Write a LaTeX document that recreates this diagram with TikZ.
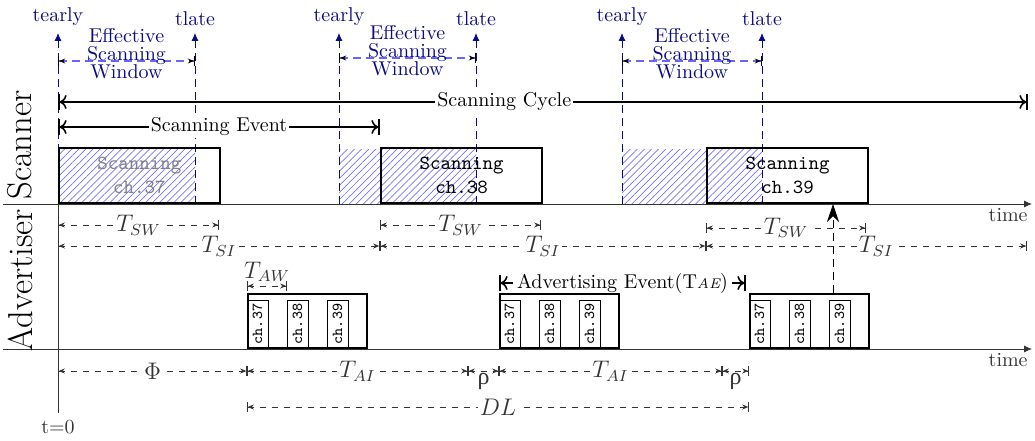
\documentclass[tikz,border=0pt]{standalone}
\usepackage{fontspec}
\newfontfamily\greekfont{Liberation Serif}
\usetikzlibrary{arrows.meta,patterns.meta}
\definecolor{darkblue}{RGB}{10,10,130}
\begin{document}
\begin{tikzpicture}[x=5pt,y=5pt,
	taxis/.style={black!80,-{Latex[length=4pt,width=3.5pt]}},
	evt/.style={thick,{Bar[width=8pt]To[length=3.5pt,width=7pt]}-{To[length=3.5pt,width=7pt]Bar[width=8pt]}},
	dim/.style={dashed,black!80,{Bar[width=5pt]Stealth[length=3pt,width=2.5pt]}-{Stealth[length=3pt,width=2.5pt]Bar[width=5pt]}},
	tline/.style={darkblue,dash pattern=on 4pt off 2.5pt,-{Latex[length=4pt,width=3.5pt]}},
	win/.style={blue!60,semithick,dash pattern=on 4pt off 2.5pt,{Bar[width=5pt,color=black]Stealth[length=3pt,width=2.5pt,color=black]}-{Stealth[length=3pt,width=2.5pt,color=black]Bar[width=5pt,color=black]}},
	lbl/.style={midway,fill=white,inner sep=1pt,font=\large},
	sbox/.style={draw,line width=1pt,minimum width=80.5pt,minimum height=27.5pt,anchor=south west,align=center,font=\ttfamily},
	abox/.style={draw,line width=1pt,minimum width=59.5pt,minimum height=27pt,anchor=south west},
	chbox/.style={draw,thin,rotate=90,minimum width=24pt,minimum height=10.5pt,inner sep=0pt,font=\ttfamily\fontsize{7.6}{9}\selectfont}]
	\useasboundingbox (-5.8,-9.1) rectangle (97.7,34.9);
	% effective scanning windows
	\foreach \e/\l/\h [count=\i] in {0/13.7/28.8,28.1/41.8/29.1,56.4/70.4/28.8}{
		\coordinate (e\i) at (\e,14.5);
		\coordinate (l\i) at (\l,14.5);
		\coordinate (we\i) at (\e,\h);
		\coordinate (wl\i) at (\l,\h);
		\fill[pattern={Lines[angle=45,distance=2.5pt,line width=0.35pt]},pattern color=blue!55] (e\i) rectangle (\l,20);
		\draw[tline] (e\i) -- ++(0,17.1) node[above] (te\i) {tearly};
		\draw[tline] (l\i) -- ++(0,17.1) node[above] (tl\i) {tlate};
		\draw[win] (we\i) -- (wl\i);
		\node[darkblue,align=center] (w\i) at ({(\e+\l)/2},\h+0.75) {Effective\\[-3pt]Scanning\\[-3pt]Window};
	}
	% scanner
	\node[sbox,text=gray] (scan1) at (0,14.5) {Scanning\\ch.37};
	\node[sbox] (scan2) at (32.2,14.5) {Scanning\\ch.38};
	\node[sbox] (scan3) at (64.8,14.5) {Scanning\\ch.39};
	\draw[evt] (0,24.7) -- (97,24.7) node[lbl,pos=0.46,font=\normalsize] (cyc) {Scanning Cycle};
	\draw[evt] (0,22.2) -- (32.2,22.2) node[lbl,font=\normalsize] (sev) {Scanning Event};
	% axes
	\draw[taxis] (-5.5,14.5) -- (97.4,14.5) node[below left,inner sep=2pt] (ts) {time};
	\draw[taxis] (-5.5,0) -- (97.4,0) node[below left,inner sep=2pt] (ta) {time};
	\draw[black!80] (0,14.5) -- (0,-6.4) node[below] (t0) {t=0};
	\node[rotate=90,font=\LARGE] (scl) at (-3.8,20.4) {Scanner};
	\node[rotate=90,font=\LARGE] (adl) at (-3.8,6.9) {Advertiser};
	% scan windows and intervals
	\draw[dim] (0,12.4) -- (16.1,12.4) node[lbl] (sw1) {$T_{SW}$};
	\draw[dim] (32.2,12.4) -- (48.3,12.4) node[lbl] (sw2) {$T_{SW}$};
	\draw[dim] (64.8,12.1) -- (80.8,12.1) node[lbl] (sw3) {$T_{SW}$};
	\draw[dim] (0,10.3) -- (32.2,10.3) node[lbl] (si1) {$T_{SI}$};
	\draw[dim] (32.2,10.3) -- (64.8,10.3) node[lbl] (si2) {$T_{SI}$};
	\draw[dim] (64.8,10.3) -- (96.9,10.3) node[lbl,pos=0.53] (si3) {$T_{SI}$};
	% advertiser
	\draw[evt] (44.1,6.6) -- (68.8,6.6) node[lbl,font=\normalsize,inner sep=2pt] (aev) {Advertising Event(T{\scriptsize\itshape AE})};
	\foreach \x [count=\i] in {18.9,44.1,69.1}{
		\node[abox] (adv\i) at (\x,0) {};
		\foreach \c [count=\j from 0] in {37,38,39}
			\node[chbox] (ch\i\c) at (\x+1.05+4*\j,2.5) {ch.\c};
	}
	\draw[dim] (18.9,6.3) -- (22.9,6.3) node[midway,above,inner sep=2pt,font=\large] (taw) {$T_{AW}$};
	\coordinate (rx) at (77.5,14.5);
	\draw[dash pattern=on 4pt off 2.5pt,-{Stealth[length=9pt,width=6pt]}] (adv3.north -| rx) -- (rx);
	% advertising intervals
	\draw[dim] (0,-2.2) -- (18.9,-2.2) node[lbl] (phi) {$\Phi$};
	\draw[dim] (18.9,-2.2) -- (41,-2.2) node[lbl] (ai1) {$T_{AI}$};
	\draw[dim] (41,-2.2) -- (44.1,-2.2) node[midway,below,inner sep=1pt,font=\large\greekfont] (r1) {ρ};
	\draw[dim] (44.1,-2.2) -- (66.4,-2.2) node[lbl] (ai2) {$T_{AI}$};
	\draw[dim] (66.4,-2.2) -- (69.1,-2.2) node[midway,below,inner sep=1pt,font=\large\greekfont] (r2) {ρ};
	\draw[dim] (18.9,-5.8) -- (69.1,-5.8) node[lbl] (dl) {$DL$};
\end{tikzpicture}
\end{document}
